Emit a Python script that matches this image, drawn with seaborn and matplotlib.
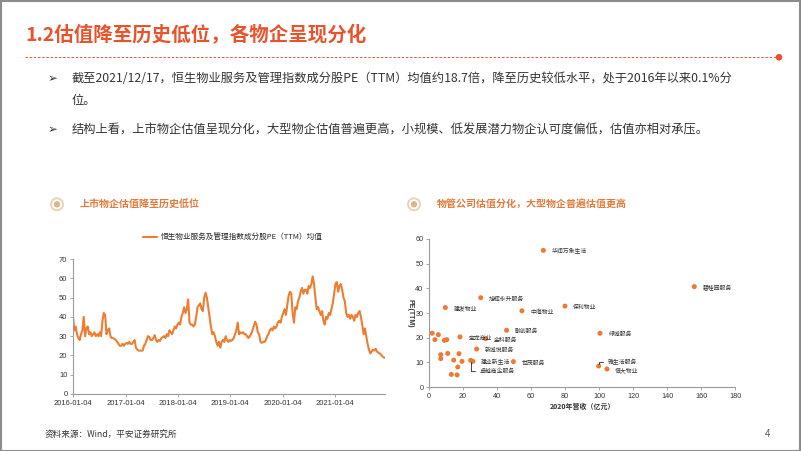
import numpy as np
import pandas as pd
import matplotlib
matplotlib.use("Agg")
import matplotlib.pyplot as plt
import seaborn as sns
from matplotlib.patches import Circle, Rectangle
from matplotlib.lines import Line2D
from matplotlib.transforms import IdentityTransform

# ---------------- data ----------------
pe_2016 = [40, 33, 35, 31, 29, 28, 31, 33, 40, 30, 34, 35, 31, 32, 30, 31, 32, 30, 31, 30,
           32, 30, 38, 42, 41, 31, 33, 34, 30, 29, 29, 28.5, 28, 27, 26, 25, 25, 26, 25, 26]
pe_2017 = [26.5, 26, 27, 26, 26, 27, 28, 24, 23, 22.5, 22.5, 22.5, 22.5, 25, 26, 28, 30, 29.5, 28, 28,
           29, 30.5, 28, 27, 28, 27.5, 29, 29.5, 30, 29, 31, 30, 33, 32, 31, 33, 35, 34, 36]
pe_2018 = [37, 36, 40, 42, 45, 42, 44, 49, 37, 36, 36, 35, 36, 40, 45, 46, 47, 44, 43, 50,
           52.5, 50, 45, 40, 35, 31, 32, 30, 27, 25, 27, 24, 27, 28, 27, 30, 28, 27, 28]
pe_2019 = [27.5, 28, 29, 31, 33, 37, 31, 32, 31.5, 32, 31, 31, 30, 29, 30, 31, 33, 35, 37.5, 36,
           32, 31, 27, 26.5, 27, 27, 28, 30, 31, 33, 34, 33, 35, 34, 35, 37, 38, 37, 40]
pe_2020 = [42, 44, 41, 46, 51, 53, 52, 42, 37, 45, 44, 48, 50, 53, 55, 52, 54, 54, 52, 56,
           55, 57, 61, 57, 50, 44, 45, 43, 41, 43, 38, 36, 40, 39, 42, 41, 44, 47, 52]
pe_2021 = [57, 58, 53, 56, 57, 54, 50, 48, 42, 40, 41, 39, 41, 40, 38, 41, 40, 42, 43, 40,
           36, 31, 34, 30, 26, 23, 21, 22, 23, 22.5, 23.5, 22, 21.5, 21, 20.5, 19.5, 19, 18.7]
pe_values = pe_2016 + pe_2017 + pe_2018 + pe_2019 + pe_2020 + pe_2021
start_date, end_date = "2016-01-04", "2021-12-17"
tick_dates = ["2016-01-04", "2017-01-04", "2018-01-04", "2019-01-04", "2020-01-04", "2021-01-04"]
series_name = "恒生物业服务及管理指数成分股PE（TTM）均值"

labeled_names = ["华润万象生活", "碧桂园服务", "旭辉永升服务", "建发物业", "保利物业", "中海物业",
                 "融创服务", "绿城服务", "宝龙商业", "金科服务", "新城悦服务", "卓越商企服务",
                 "建业新生活", "世茂服务", "雅生活服务", "恒大物业"]
labeled_rev = [67.2, 155.9, 30.4, 9.6, 79.9, 54.6, 45.6, 100.5, 18.2, 33.3, 28.0, 24.5, 25.8, 49.6, 99.7, 104.6]
labeled_pe = [55.4, 40.7, 36.2, 32.2, 32.8, 30.9, 23.0, 21.8, 20.3, 19.6, 15.4, 10.8, 10.4, 10.3, 8.5, 7.3]
other_rev = [1.9, 5.5, 3.5, 9.0, 10.4, 6.9, 6.9, 11.0, 14.5, 17.6, 19.4, 16.9, 13.1, 16.5]
other_pe = [21.8, 21.2, 19.2, 18.9, 19.2, 13.1, 11.5, 13.6, 10.9, 13.5, 10.4, 8.1, 5.1, 4.9]

title = "1.2估值降至历史低位，各物企呈现分化"
bullet1_l1 = "截至2021/12/17，恒生物业服务及管理指数成分股PE（TTM）均值约18.7倍，降至历史较低水平，处于2016年以来0.1%分"
bullet1_l2 = "位。"
bullet2 = "结构上看，上市物企估值呈现分化，大型物企估值普遍更高，小规模、低发展潜力物企认可度偏低，估值亦相对承压。"
left_header = "上市物企估值降至历史低位"
right_header = "物管公司估值分化，大型物企普遍估值更高"
footer = "资料来源：Wind，平安证券研究所"
xlabel_r = "2020年营收（亿元）"
ylabel_r = "PE(TTM)"

# ---------------- style ----------------
sns.set_theme(style="white")
plt.rcParams['font.family'] = ['Liberation Sans', 'Noto Sans CJK SC', 'DejaVu Sans']
plt.rcParams['axes.unicode_minus'] = False

W, H = 802, 451
fig = plt.figure(figsize=(W / 100, H / 100), dpi=100)
fig.patch.set_facecolor("white")

def fx(x):
    return x / W

def fy(y):
    return 1 - y / H

RED = "#E8532B"
ORANGE = "#ED7D31"
HEAD = "#E27B3D"
TXT = "#333333"
CJK = ['Noto Sans CJK SC', 'DejaVu Sans']
LAT = ['Liberation Sans', 'Noto Sans CJK SC', 'DejaVu Sans']

# frame
fig.add_artist(Rectangle((0.5, 0.5), W - 2.5, H - 1.5, transform=IdentityTransform(),
                         fill=False, edgecolor="#8c8c8c", lw=1.5))

# title
fig.text(fx(25), fy(35), title, color=RED, fontsize=14, fontweight='bold',
         family=CJK, va='center', ha='left')
fig.add_artist(Line2D([fx(25), fx(777)], [fy(57.3), fy(57.3)], transform=fig.transFigure,
                      color=RED, lw=0.7, dashes=(2.5, 1.8)))
fig.add_artist(Circle((779, H - 57.3), 2.6, transform=IdentityTransform(), color=RED))

# bullets
for yb in (79, 130):
    fig.text(fx(53), fy(yb), "➢", fontsize=8.5, color=TXT, family=['DejaVu Sans'],
             va='center', ha='center')
fig.text(fx(72), fy(79), bullet1_l1, fontsize=8.8, color=TXT, family=CJK, va='center')
fig.text(fx(72), fy(101), bullet1_l2, fontsize=8.8, color=TXT, family=CJK, va='center')
fig.text(fx(72), fy(130), bullet2, fontsize=8.8, color=TXT, family=CJK, va='center')

# section headers
for cx, tx, txt in ((57, 80, left_header), (414, 437, right_header)):
    fig.add_artist(Circle((cx, H - 204.3), 6.0, transform=IdentityTransform(),
                          facecolor="white", edgecolor="#EBD3B8", lw=1.4))
    fig.add_artist(Circle((cx, H - 204.3), 3.2, transform=IdentityTransform(),
                          facecolor="#D8B68F", edgecolor="none"))
    fig.text(fx(tx), fy(204.3), txt, fontsize=7.2, color=HEAD, family=CJK,
             fontweight='bold', va='center', ha='left')

# footer
fig.text(fx(45), fy(434), footer, fontsize=6.2, color=TXT, family=CJK, va='center')
fig.text(fx(765), fy(434), "4", fontsize=7, color="#555555", family=LAT, va='center')

# ---------------- left chart ----------------
axL = fig.add_axes([fx(73), fy(394), (385 - 73) / W, (394 - 259) / H])
dates = pd.date_range(start_date, end_date, periods=len(pe_values))
dfL = pd.DataFrame({"date": dates, "pe": pe_values})
sns.lineplot(data=dfL, x="date", y="pe", ax=axL, color=ORANGE, lw=1.5, label=series_name)
axL.set_xlim(pd.Timestamp(start_date), pd.Timestamp(end_date))
axL.set_ylim(0, 70)
axL.set_yticks(range(0, 71, 10))
axL.set_xticks(pd.to_datetime(tick_dates))
axL.set_xticklabels(tick_dates)
axL.set_xlabel("")
axL.set_ylabel("")
axL.legend(loc='center', bbox_to_anchor=(fx(233), fy(238)), bbox_transform=fig.transFigure,
           frameon=False, handlelength=1.9, handletextpad=0.5,
           prop={'family': CJK, 'size': 5.5})

# ---------------- right chart ----------------
axR = fig.add_axes([fx(429), fy(387), (735.3 - 429) / W, (387 - 239) / H])
all_rev = labeled_rev + other_rev
all_pe = labeled_pe + other_pe
sns.scatterplot(x=all_rev, y=all_pe, ax=axR, color="#EA7A36", s=13, edgecolor='none', linewidth=0)
axR.set_xlim(0, 180)
axR.set_ylim(0, 60)
axR.set_xticks(range(0, 181, 20))
axR.set_yticks(range(0, 61, 10))
axR.set_xlabel(xlabel_r, fontsize=5, fontweight='bold', family=CJK, labelpad=2, color=TXT)
axR.set_ylabel(ylabel_r, fontsize=5, fontweight='bold', family=LAT, rotation=270,
               labelpad=6, color=TXT)

special = {
    "卓越商企服务": (8.5, -10.5),
    "雅生活服务": (9.0, 4.0),
}
for name, xv, yv in zip(labeled_names, labeled_rev, labeled_pe):
    if name in special:
        dx, dy = special[name]
        axR.annotate(name, xy=(xv, yv), xytext=(dx, dy), textcoords='offset pixels',
                     fontsize=4.2, family=CJK, color=TXT, va='center', ha='left',
                     arrowprops=dict(arrowstyle='-', color='#222222', lw=0.6,
                                     connectionstyle='angle,angleA=0,angleB=90,rad=0',
                                     shrinkA=1, shrinkB=1.5))
    else:
        axR.annotate(name, xy=(xv, yv), xytext=(8.3, -1.3), textcoords='offset pixels',
                     fontsize=4.2, family=CJK, color=TXT, va='center', ha='left')

for ax in (axL, axR):
    sns.despine(ax=ax)
    for sp in ("left", "bottom"):
        ax.spines[sp].set_color("#9a9a9a")
        ax.spines[sp].set_linewidth(0.8)
    ax.tick_params(axis='both', labelsize=5.5, colors="#9a9a9a", labelcolor=TXT,
                   length=2, width=0.6, pad=2, direction='out',
                   bottom=True, left=True)
    for lab in ax.get_xticklabels() + ax.get_yticklabels():
        lab.set_family(LAT)
    ax.set_facecolor("white")
axR.tick_params(axis='both', labelsize=5.2)

fig.savefig("out.png", dpi=100)
